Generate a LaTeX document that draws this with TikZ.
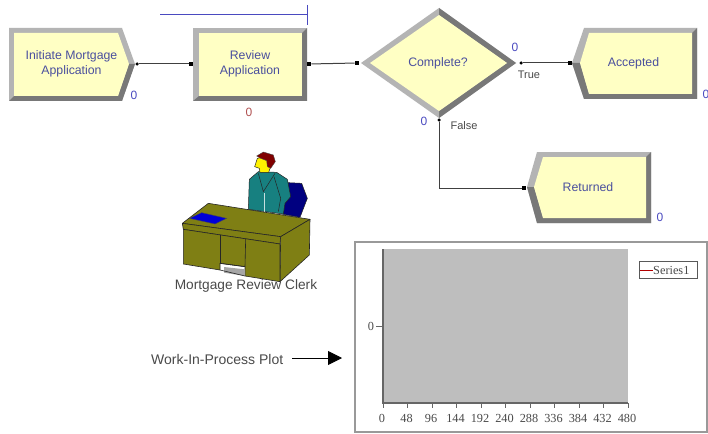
\documentclass[tikz,border=0pt]{standalone}
\usepackage{fontspec}
\usetikzlibrary{arrows.meta}
\setmainfont{Liberation Sans}
\newfontfamily\serifplot{Liberation Serif}
\definecolor{fillY}{HTML}{FFFFC4}
\definecolor{bevL}{HTML}{B4B4B4}
\definecolor{bevD}{HTML}{787878}
\definecolor{labB}{HTML}{4A4F9E}
\definecolor{cntB}{HTML}{4A4AC0}
\definecolor{cntR}{HTML}{B05050}
\definecolor{txtG}{HTML}{4A4A4A}
\definecolor{plotG}{HTML}{BEBEBE}
\definecolor{desk}{HTML}{7F7F14}
\definecolor{suit}{HTML}{178080}
\tikzset{
  x=1pt,y=-1pt,
  shapelabel/.style={font=\fontsize{12.3}{14.5}\selectfont,text=labB,align=center,inner sep=0pt},
  counterB/.style={font=\fontsize{12}{14}\selectfont,text=cntB,inner sep=0pt},
  counterR/.style={font=\fontsize{12}{14}\selectfont,text=cntR,inner sep=0pt},
  plain/.style={font=\fontsize{13.7}{15}\selectfont,text=txtG,inner sep=0pt},
  small/.style={font=\fontsize{11}{13}\selectfont,text=txtG,inner sep=0pt},
  axislab/.style={font=\serifplot\fontsize{12.3}{14}\selectfont,text=txtG,inner sep=0pt},
  conn/.style={draw=black!75,line width=1pt},
  outdot/.style={circle,fill=black,inner sep=0pt,minimum size=3.5pt},
  indot/.style={rectangle,fill=black,inner sep=0pt,minimum size=4.5pt},
  deskline/.style={draw=black!85,line width=0.6pt,line join=round},
  axisline/.style={draw=black!60,line width=0.9pt}
}
\begin{document}
\begin{tikzpicture}
\useasboundingbox (0,0) rectangle (708,433);
\fill[white] (0,0) rectangle (708,433);

% Initiate Mortgage Application
\fill[bevL] (9,28)--(122,28)--(135,64)--(122,101)--(9,101)--cycle;
\fill[bevD] (135,64)--(122,101)--(9,101)--(14,96)--(118,96)--(129,64)--cycle;
\fill[fillY] (14,33)--(118,33)--(129,64)--(118,96)--(14,96)--cycle;
\node[shapelabel] (init) at (71.5,64) {Initiate Mortgage\\Application};
\node[counterB] (initC) at (134,95) {0};

% Review Application
\fill[bevL] (193,28)--(307,28)--(307,101)--(193,101)--cycle;
\fill[bevD] (307,28)--(307,101)--(193,101)--(199,96)--(302,96)--(302,33)--cycle;
\fill[fillY] (199,33) rectangle (302,96);
\node[shapelabel] (review) at (250,64) {Review\\Application};
\node[counterR] (reviewC) at (249,112) {0};
\draw[draw=cntB,line width=1pt] (160,15)--(307,15);
\draw[draw=cntB,line width=1pt] (307,5)--(307,25);

% Complete?
\fill[bevL] (361,63)--(439,8)--(516,63)--(439,118)--cycle;
\fill[bevD] (439,8)--(516,63)--(439,118)--(439,111)--(507,63)--(439,15)--cycle;
\fill[fillY] (370,63)--(439,15)--(507,63)--(439,111)--cycle;
\node[shapelabel] (complete) at (438,63) {Complete?};
\node[counterB] (compT) at (515,47) {0};
\node[counterB] (compF) at (424,121) {0};
\node[small] (trueL) at (529,74.5) {True};
\node[small] (falseL) at (464,126) {False};

% Accepted
\fill[bevL] (572,63)--(584,28)--(697,28)--(697,99)--(584,99)--cycle;
\fill[bevD] (697,28)--(697,99)--(584,99)--(572,63)--(580,63)--(589,94)--(692,94)--(692,33)--cycle;
\fill[fillY] (580,63)--(589,33)--(692,33)--(692,94)--(589,94)--cycle;
\node[shapelabel] (accepted) at (633.5,63) {Accepted};
\node[counterB] (accC) at (706,94) {0};

% Returned
\fill[bevL] (527,187)--(537,152)--(651,152)--(651,223)--(537,223)--cycle;
\fill[bevD] (651,152)--(651,223)--(537,223)--(527,187)--(534,187)--(543,218)--(646,218)--(646,157)--cycle;
\fill[fillY] (534,187)--(543,157)--(646,157)--(646,218)--(543,218)--cycle;
\node[shapelabel] (returned) at (588,187) {Returned};
\node[counterB] (retC) at (660,217) {0};

% Connection points
\node[outdot] (o1) at (137,64) {};
\node[indot]  (i2) at (191,64) {};
\node[indot]  (o2) at (309,64) {};
\node[indot]  (i3) at (357,63) {};
\node[outdot] (o3t) at (521,63) {};
\node[indot]  (i4) at (570,63) {};
\node[outdot] (o3f) at (439,120) {};
\node[indot]  (i5) at (524,188) {};
\draw[conn] (o1)--(i2);
\draw[conn] (o2)--(i3);
\draw[conn] (o3t)--(i4);
\draw[conn] (o3f) |- (i5);

% Clerk and desk (coordinates on a 3x grid)
\begin{scope}[xshift=150pt,yshift=-140pt,scale=1/3]
  % chair
  \fill[blue!50!black,draw=black!85,line width=0.5pt] (415,128)--(455,130)--(472,175)--(450,232)--(395,222)--cycle;
  % body
  \fill[suit,draw=black!85,line width=0.5pt] (298,118)--(325,95)--(380,97)--(412,118)--(422,170)--(405,190)--(400,222)--(295,208)--cycle;
  \draw[black!85,line width=0.5pt] (325,100)--(340,155)--(375,100);
  \draw[black!85,line width=0.5pt] (372,110)--(392,175)--(385,215);
  \draw[white!75!suit,line width=0.8pt] (342,160)--(342,215);
  % head
  \fill[yellow,draw=black!85,line width=0.5pt] (322,55)--(350,50)--(362,80)--(356,97)--(330,97)--(328,85)--(314,80)--cycle;
  \fill[red!50!black,draw=black!70,line width=0.4pt] (320,48)--(340,36)--(370,45)--(376,65)--(362,85)--(352,80)--(350,62)--(332,55)--cycle;
  % desk
  \fill[desk,deskline] (175,190)--(480,238)--(392,290)--(97,250)--cycle;
  \fill[desk,deskline] (97,250)--(392,290)--(390,312)--(100,268)--cycle;
  \fill[desk,deskline] (392,290)--(480,238)--(478,345)--(390,425)--cycle;
  \fill[desk,deskline] (100,268)--(390,312)--(390,425)--(285,408)--(285,380)--(210,370)--(210,390)--(100,372)--cycle;
  \draw[deskline] (210,285)--(210,370);
  \draw[deskline] (287,297)--(285,380);
  \draw[deskline] (210,370)--(285,380);
  \fill[gray!70] (222,381)--(285,388)--(285,408)--(222,398)--cycle;
  \draw[deskline] (210,390)--(285,408);
  % book
  \fill[blue!85!black,draw=black!70,line width=0.4pt] (118,235)--(155,218)--(230,235)--(195,252)--cycle;
\end{scope}
\node[plain] (clerk) at (246,286) {Mortgage Review Clerk};

% Plot label and arrow
\node[plain,anchor=west,font=\fontsize{14}{15}\selectfont] (wip) at (151,359) {Work-In-Process Plot};
\coordinate (arrowS) at (292,358);
\coordinate (plotIn) at (342,358);
\draw[-{Triangle[length=14pt,width=14pt]},black,line width=0.9pt] (arrowS)--(plotIn);

% Plot
\draw[black!40,line width=1.6pt] (355,242) rectangle (707,432);
\fill[plotG] (383,249) rectangle (628,403);
\draw[black!60,line width=1.4pt] (383,249)--(383,403)--(628,403);
\draw[axisline] (376,326)--(383,326);
\node[axislab] (yzero) at (371,326) {0};
\foreach \v [count=\i from 0] in {0,48,96,144,192,240,288,336,384,432,480}{
  \draw[axisline] ({383+24.5*\i},403)--({383+24.5*\i},408);
  \node[axislab] (xt\i) at ({382+24.5*\i},418) {\v};
}
\draw[black!65,line width=1pt] (639,261) rectangle (697,278);
\draw[red!70!black,line width=0.6pt] (640,270)--(653,270);
\node[axislab,anchor=west] (legend) at (653,270) {Series1};
\end{tikzpicture}
\end{document}
